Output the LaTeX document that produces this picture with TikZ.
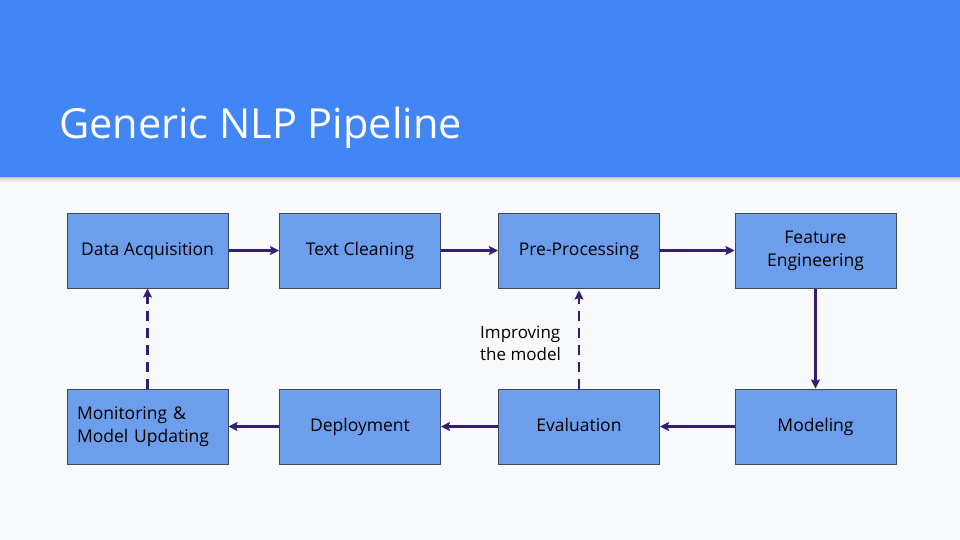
\documentclass[tikz,border=0pt]{standalone}
\usepackage{fontspec}
\setmainfont{Open Sans}
\usetikzlibrary{arrows.meta}
\definecolor{headerblue}{HTML}{4285F4}
\definecolor{pagebg}{HTML}{F8F9FA}
\definecolor{boxfill}{HTML}{6D9EEB}
\definecolor{boxline}{HTML}{3D4A5C}
\definecolor{flow}{HTML}{351C75}
\tikzset{
  stage/.style={draw=boxline, line width=1pt, fill=boxfill, minimum width=161pt,
    minimum height=75pt, inner sep=0pt, align=center,
    font=\fontsize{17.5}{23}\selectfont},
  oneline/.style={stage, text height=13pt, text depth=4pt},
  flowarrow/.style={draw=flow, line width=2.6pt, -{Stealth[length=9pt,width=9pt,inset=1.5pt]}},
  feedback/.style={flowarrow, dash pattern=on 10pt off 7pt}
}
\begin{document}
\begin{tikzpicture}[x=1pt,y=-1pt]
  % page and header band
  \fill[pagebg] (0,0) rectangle (960,540);
  \shade[top color=black!25, bottom color=pagebg] (0,176) rectangle (960,182);
  \fill[headerblue] (0,0) rectangle (960,177);
  \node[anchor=base west, text=white, inner sep=0pt, font=\fontsize{41.5}{48}\selectfont] (title)
    at (59,139) {Generic NLP Pipeline};

  % pipeline stages
  \node[oneline] (acq)  at (147.5,250.5) {Data Acquisition};
  \node[oneline] (clean) at (360,250.5) {Text Cleaning};
  \node[oneline] (prep) at (579,250.5) {Pre-Processing};
  \node[stage] (feat) at (815.5,250.5) {Feature\\Engineering};
  \node[oneline] (model) at (815.5,426.5) {Modeling};
  \node[oneline] (eval) at (579,426.5) {Evaluation};
  \node[oneline] (deploy) at (360,426.5) {Deployment};
  \node[stage, align=left, text width=141pt] (monitor) at (147.5,426.5) {Monitoring \&\\Model Updating};

  % forward flow
  \draw[flowarrow] (acq) -- (clean);
  \draw[flowarrow] (clean) -- (prep);
  \draw[flowarrow] (prep) -- (feat);
  \draw[flowarrow] (feat) -- (model);
  \draw[flowarrow] (model) -- (eval);
  \draw[flowarrow] (eval) -- (deploy);
  \draw[flowarrow] (deploy) -- (monitor);

  % feedback loops
  \draw[feedback] (monitor.north) -- (acq.south);
  \draw[feedback] (eval.north) -- ([yshift=-2pt]prep.south);
  \node[anchor=north west, align=left, inner sep=0pt, font=\fontsize{17}{22}\selectfont] (improve)
    at (480,326) {Improving\\the model};
\end{tikzpicture}
\end{document}
